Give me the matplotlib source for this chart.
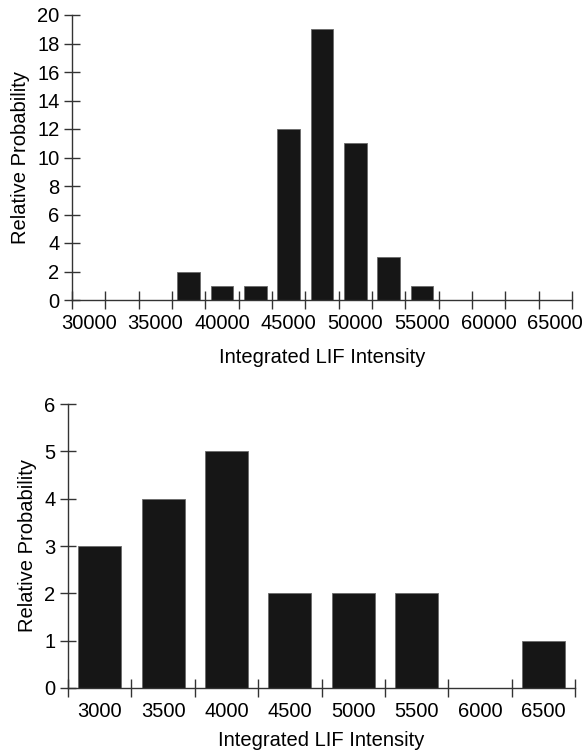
import matplotlib
matplotlib.use("Agg")
import matplotlib.pyplot as plt
import numpy as np

plt.rcParams["font.family"] = ["Liberation Sans", "DejaVu Sans"]

# Top histogram: bins of 2500, labelled every 5000
top_bins = np.arange(30000, 65001, 2500)
top_labels = ["30000", "35000", "40000", "45000", "50000", "55000", "60000", "65000"]
top_intensity = [37500, 40000, 42500, 45000, 47500, 50000, 52500, 55000]
top_prob = [2, 1, 1, 12, 19, 11, 3, 1]

# Bottom histogram: bins of 500
bottom_intensity = [3000, 3500, 4000, 4500, 5000, 5500, 6000, 6500]
bottom_labels = ["3000", "3500", "4000", "4500", "5000", "5500", "6000", "6500"]
bottom_prob = [3, 4, 5, 2, 2, 2, 0, 1]

bar_color = "#161616"
edge_color = "#6a6a6a"
axis_color = "#333333"


def style_axes(ax, edges, centers, labels, ymax, ystep):
    for side in ("top", "right"):
        ax.spines[side].set_visible(False)
    for side in ("left", "bottom"):
        ax.spines[side].set_color(axis_color)
        ax.spines[side].set_linewidth(1.0)
    ax.set_xticks(edges)
    ax.set_xticklabels([])
    ax.set_xticks(centers, minor=True)
    ax.set_xticklabels(labels, minor=True)
    ax.tick_params(axis="x", which="major", direction="inout", length=13,
                   width=1.0, color=axis_color)
    ax.tick_params(axis="x", which="minor", length=0, pad=10, labelsize=14.5)
    ax.set_yticks(np.arange(0, ymax + 1, ystep))
    ax.tick_params(axis="y", direction="inout", length=12, width=1.0,
                   color=axis_color, labelsize=14.5, pad=3)
    ax.set_ylim(0, ymax)
    ax.set_xlim(edges[0], edges[-1])
    ax.set_xlabel("Integrated LIF Intensity", fontsize=14.5, labelpad=11)
    ax.set_ylabel("Relative Probability", fontsize=14.5, labelpad=5)


fig = plt.figure(figsize=(5.85, 7.5), dpi=100)

ax1 = fig.add_axes([0.1231, 0.6, 0.8547, 0.38])
ax1.bar(top_intensity, top_prob, width=1700, color=bar_color,
        edgecolor=edge_color, linewidth=0.6, zorder=1)
top_edges = np.append(top_bins - 1250, top_bins[-1] + 1250)
style_axes(ax1, top_edges, top_bins[::2], top_labels, 20, 2)

ax2 = fig.add_axes([0.1162, 0.0827, 0.8668, 0.3786])
ax2.bar(bottom_intensity, bottom_prob, width=340, color=bar_color,
        edgecolor=edge_color, linewidth=0.6, zorder=1)
bottom_edges = np.append(np.array(bottom_intensity) - 250, bottom_intensity[-1] + 250)
style_axes(ax2, bottom_edges, bottom_intensity, bottom_labels, 6, 1)
ax2.xaxis.labelpad = 7

fig.savefig("out.png", dpi=100)
